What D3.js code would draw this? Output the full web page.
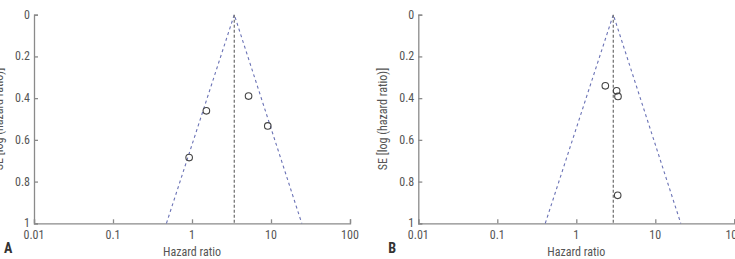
<!DOCTYPE html>
<html><head><meta charset="utf-8">
<script src="https://cdn.jsdelivr.net/npm/d3@7"></script>
<style>
html,body{margin:0;padding:0;background:#fff;}
svg{display:block;}
text{font-family:"Liberation Sans Narrow","Roboto Condensed","Liberation Sans",sans-serif;fill:#555;}
</style></head>
<body><svg id="chart" width="735" height="259"></svg>
<script>
// Panel A data
const hrA = [1.52, 5.2, 9.1, 0.92];
const seA = [0.461, 0.39, 0.533, 0.685];
const pooledA = 3.43;
const funnelA = [0.475, 24.5];
// Panel B data
const hrB = [2.33, 3.24, 3.37, 3.34];
const seB = [0.341, 0.365, 0.392, 0.866];
const pooledB = 2.94;
const funnelB = [0.405, 21.0];
// axes
const xTicks = [0.01, 0.1, 1, 10, 100];
const xTickLabels = ["0.01", "0.1", "1", "10", "100"];
const yTicks = [0, 0.2, 0.4, 0.6, 0.8, 1];
const yTickLabels = ["0", "0.2", "0.4", "0.6", "0.8", "1"];

const svg = d3.select("#chart");

function panel(x0, hr, se, pooled, funnel, letter) {
  const left = x0, right = x0 + 316, top = 14.7, bottom = 223.3;
  const x = d3.scaleLog().domain([0.01, 100]).range([left, right]);
  const y = d3.scaleLinear().domain([0, 1]).range([top, bottom]);
  const g = svg.append("g");

  // axes
  const xa = g.append("g").attr("transform", `translate(0,${bottom})`)
    .call(d3.axisTop(x).tickValues(xTicks).tickSize(4).tickFormat(()=>""));
  const ya = g.append("g").attr("transform", `translate(${left},0)`)
    .call(d3.axisRight(y).tickValues(yTicks).tickSize(4).tickFormat(()=>""));
  [xa, ya].forEach(a => {
    a.selectAll("path").attr("stroke", "#8a8a8a").attr("stroke-width", 1.3);
    a.selectAll("line").attr("stroke", "#8a8a8a").attr("stroke-width", 1.3);
  });
  // tick labels
  g.selectAll(".xl").data(xTicks).enter().append("text")
    .attr("x", d => x(d)).attr("y", bottom + 16)
    .attr("text-anchor", "middle").attr("font-size", 12)
    .text((d,i) => xTickLabels[i]);
  g.selectAll(".yl").data(yTicks).enter().append("text")
    .attr("x", left - 4).attr("y", d => y(d) + 4)
    .attr("text-anchor", "end").attr("font-size", 12)
    .text((d,i) => yTickLabels[i]);
  // axis titles
  g.append("text").attr("x", (left + right) / 2).attr("y", 256)
    .attr("text-anchor", "middle").attr("font-size", 12).text("Hazard ratio");
  g.append("text").attr("transform", `translate(${left - 31},${(top + bottom) / 2}) rotate(-90)`)
    .attr("text-anchor", "middle").attr("font-size", 12).text("SE [log (hazard ratio)]");
  g.append("text").attr("x", x0 - 30).attr("y", 253)
    .attr("font-size", 14).attr("font-weight", "bold")
    .style("fill", "#333").text(letter);

  // funnel lines
  const line = d3.line().x(d => x(d[0])).y(d => y(d[1]));
  g.append("path").datum([[funnel[0], 1], [pooled, 0], [funnel[1], 1]])
    .attr("d", line).attr("fill", "none").attr("stroke", "#6a72b5")
    .attr("stroke-width", 1.1).attr("stroke-dasharray", "3,3");
  g.append("path").datum([[pooled, 0], [pooled, 1]])
    .attr("d", line).attr("fill", "none").attr("stroke", "#777")
    .attr("stroke-width", 1.3).attr("stroke-dasharray", "3,2");

  // points
  g.selectAll(".pt").data(hr.map((h, i) => [h, se[i]])).enter().append("circle")
    .attr("cx", d => x(d[0])).attr("cy", d => y(d[1])).attr("r", 3.3)
    .attr("fill", "none").attr("stroke", "#444").attr("stroke-width", 1.1);
}

panel(34, hrA, seA, pooledA, funnelA, "A");
panel(418.3, hrB, seB, pooledB, funnelB, "B");
</script></body></html>
